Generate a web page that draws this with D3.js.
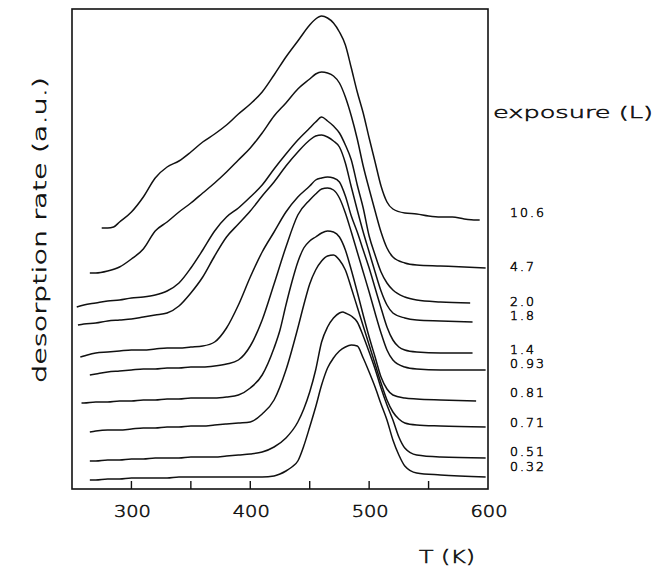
<!DOCTYPE html>
<html>
<head>
<meta charset="utf-8">
<script src="https://cdn.jsdelivr.net/npm/d3@7/dist/d3.min.js"></script>
<style>
  body { margin: 0; background: #fff; }
  text { font-family: "DejaVu Sans ExtraLight", "DejaVu Sans", sans-serif; font-weight: 200;
         fill: #111; stroke: #111; stroke-width: 0.55px; }
</style>
</head>
<body>
<div id="chart"></div>
<script>
// exposure labels (L), top curve first
var exposures = ["10.6", "4.7", "2.0", "1.8", "1.4", "0.93", "0.81", "0.71", "0.51", "0.32"];

// where each exposure label sits on the y axis (a.u.)
var labelLevels = [27.7, 22.3, 18.8, 17.4, 14.0, 12.6, 9.7, 6.7, 3.8, 2.3];

// spectra: [T (K), desorption rate (a.u., offset)]
var s10_6 = [[275,26.1],[280,26.1],[285,26.2],[290,26.7],[300,27.7],[310,29.2],[320,31.1],[330,32.2],[340,32.8],[350,33.7],[360,34.7],[370,35.5],[380,36.4],[390,37.5],[400,38.5],[410,39.7],[420,41.4],[430,43.2],[440,44.8],[450,46.4],[455,47.0],[460,47.3],[465,47.1],[470,46.6],[475,45.7],[480,44.4],[485,42.1],[490,39.7],[495,37.6],[500,35.1],[505,32.7],[510,30.3],[515,28.7],[520,28.0],[530,27.6],[540,27.5],[550,27.3],[560,27.2],[570,27.2],[580,27.0],[590,26.9],[593,26.9]];
var s4_7 = [[265,21.6],[270,21.6],[280,21.8],[290,22.2],[300,23.0],[310,24.0],[320,25.8],[330,26.7],[340,27.7],[350,28.6],[360,29.6],[370,30.6],[380,31.7],[390,32.9],[400,34.1],[410,35.6],[420,37.3],[430,38.6],[440,40.0],[450,41.0],[455,41.5],[460,41.7],[465,41.6],[470,41.3],[475,40.6],[480,39.2],[485,37.3],[490,35.0],[495,32.3],[500,30.0],[505,27.8],[510,25.7],[515,24.1],[520,23.2],[530,22.6],[540,22.4],[560,22.3],[580,22.2],[598,22.1]];
var s2_0 = [[254,18.2],[260,18.4],[270,18.6],[280,18.8],[290,18.9],[300,19.1],[310,19.2],[320,19.4],[330,19.8],[340,20.6],[350,22.1],[360,23.9],[370,25.8],[380,27.2],[390,28.1],[400,29.2],[410,30.4],[420,32.0],[430,33.5],[440,34.9],[450,36.1],[455,36.7],[460,37.2],[465,36.8],[470,36.3],[475,35.6],[480,34.4],[485,32.9],[490,30.4],[495,28.1],[500,25.3],[505,23.4],[510,21.7],[515,20.6],[520,19.9],[530,19.2],[540,18.9],[560,18.7],[585,18.6]];
var s1_8 = [[255,16.4],[260,16.5],[270,16.6],[280,16.8],[290,16.9],[300,17.0],[310,17.2],[320,17.4],[330,17.6],[340,18.3],[350,19.6],[360,21.2],[370,23.3],[380,25.2],[390,26.5],[400,27.8],[410,29.3],[420,30.7],[430,32.3],[440,33.7],[450,34.9],[455,35.3],[460,35.4],[465,35.2],[470,34.8],[475,34.2],[480,32.6],[485,30.2],[490,27.9],[495,25.7],[500,23.7],[505,21.7],[510,19.8],[515,18.4],[520,17.6],[530,17.1],[540,16.9],[560,16.8],[587,16.7]];
var s1_4 = [[257,13.2],[260,13.3],[270,13.6],[280,13.7],[290,13.8],[300,13.9],[310,13.9],[320,14.0],[330,14.1],[340,14.1],[350,14.2],[360,14.3],[370,14.7],[380,16.1],[390,18.4],[400,21.2],[410,23.7],[420,25.7],[430,27.7],[440,29.2],[450,30.3],[455,30.9],[460,31.1],[465,31.2],[470,31.1],[475,30.7],[480,29.3],[485,27.3],[490,25.7],[495,23.9],[500,22.1],[505,20.1],[510,18.1],[515,16.2],[520,14.9],[525,14.2],[530,13.9],[540,13.7],[560,13.6],[587,13.6]];
var s0_93 = [[265,11.4],[270,11.5],[280,11.7],[290,11.8],[300,11.9],[310,12.0],[320,12.0],[330,12.1],[340,12.1],[350,12.2],[360,12.2],[370,12.3],[380,12.5],[390,12.9],[400,14.3],[410,16.9],[420,20.5],[430,24.2],[440,27.4],[450,28.9],[455,29.5],[460,30.0],[465,30.1],[470,29.9],[475,29.1],[480,27.6],[485,25.7],[490,23.7],[495,21.7],[500,19.7],[505,17.6],[510,15.6],[515,13.9],[520,12.9],[530,12.2],[540,12.0],[560,11.9],[598,11.9]];
var s0_81 = [[258,8.6],[260,8.6],[270,8.7],[280,8.7],[290,8.8],[300,8.8],[310,8.9],[320,8.9],[330,9.0],[340,9.0],[350,9.1],[360,9.1],[370,9.1],[380,9.2],[390,9.4],[400,10.1],[410,11.4],[420,14.1],[425,15.9],[430,18.4],[435,20.7],[440,22.7],[445,24.1],[450,24.8],[455,25.2],[460,25.6],[465,25.8],[470,25.7],[475,25.2],[480,23.9],[485,21.9],[490,19.7],[495,17.4],[500,15.2],[505,13.2],[510,11.2],[515,10.0],[520,9.4],[530,9.1],[540,9.0],[560,8.9],[590,8.8]];
var s0_71 = [[265,5.7],[270,5.8],[280,5.9],[290,5.9],[300,6.0],[310,6.1],[320,6.1],[330,6.2],[340,6.2],[350,6.3],[360,6.3],[370,6.4],[380,6.5],[390,6.6],[400,6.7],[410,7.5],[420,8.9],[430,11.9],[440,16.1],[445,18.4],[450,20.5],[455,21.9],[460,22.8],[465,23.3],[470,23.4],[475,22.9],[480,21.9],[485,20.1],[490,18.2],[495,16.3],[500,14.4],[505,12.5],[510,10.6],[515,8.9],[520,7.7],[525,7.0],[530,6.6],[540,6.4],[560,6.3],[598,6.2]];
var s0_51 = [[265,2.8],[270,2.8],[280,2.9],[290,2.9],[300,3.0],[310,3.0],[320,3.1],[330,3.1],[340,3.1],[350,3.2],[360,3.2],[370,3.2],[380,3.3],[390,3.4],[400,3.5],[410,3.7],[420,4.2],[430,5.1],[440,6.7],[445,8.0],[450,9.7],[455,11.9],[460,14.7],[465,16.2],[470,17.1],[475,17.6],[478,17.7],[480,17.6],[485,17.3],[490,16.7],[495,15.3],[500,13.7],[505,12.0],[510,10.1],[515,8.4],[520,6.9],[525,5.2],[530,4.1],[540,3.4],[560,3.2],[598,3.1]];
var s0_32 = [[265,0.9],[270,0.9],[280,1.0],[290,1.0],[300,1.1],[310,1.1],[320,1.1],[330,1.1],[340,1.2],[350,1.2],[360,1.2],[370,1.2],[380,1.2],[390,1.2],[400,1.2],[410,1.2],[420,1.3],[425,1.5],[430,1.8],[435,2.2],[440,2.8],[445,4.3],[450,6.2],[455,8.2],[460,10.4],[465,12.1],[470,13.1],[475,13.8],[480,14.2],[485,14.4],[490,14.3],[495,13.1],[500,11.7],[505,10.2],[510,8.5],[515,6.9],[520,4.9],[525,3.4],[530,2.3],[540,1.6],[560,1.4],[598,1.2]];

var spectra = [s10_6, s4_7, s2_0, s1_8, s1_4, s0_93, s0_81, s0_71, s0_51, s0_32];

var xTicks = [300, 350, 400, 450, 500, 550];
var xLabels = [300, 400, 500, 600];

// set the dimensions and margins of the graph
var W = 656, H = 574;
var margin = { top: 9, right: 168, bottom: 85, left: 72 },
    width = W - margin.left - margin.right,
    height = H - margin.top - margin.bottom;

var svg = d3.select("#chart").append("svg")
    .attr("width", W)
    .attr("height", H);

var g = svg.append("g")
    .attr("transform", "translate(" + margin.left + "," + margin.top + ")");

var x = d3.scaleLinear().domain([250, 600]).range([0, width]);
var y = d3.scaleLinear().domain([0, 48]).range([height, 0]);

// curves
var line = d3.line()
    .x(function (d) { return x(d[0]); })
    .y(function (d) { return y(d[1]); })
    .curve(d3.curveMonotoneX);

g.selectAll("path.spec")
    .data(spectra)
    .enter()
    .append("path")
    .attr("class", "spec")
    .attr("d", line)
    .attr("fill", "none")
    .attr("stroke", "#111")
    .attr("stroke-width", 1.5)
    .attr("stroke-linejoin", "round");

// frame
g.append("rect")
    .attr("x", 0).attr("y", 0)
    .attr("width", width).attr("height", height)
    .attr("fill", "none")
    .attr("stroke", "#111")
    .attr("stroke-width", 1.6);

// inward ticks on the T axis
g.selectAll("line.tick")
    .data(xTicks)
    .enter()
    .append("line")
    .attr("x1", function (d) { return x(d); })
    .attr("x2", function (d) { return x(d); })
    .attr("y1", height)
    .attr("y2", height - 8)
    .attr("stroke", "#111")
    .attr("stroke-width", 1.4);

g.selectAll("text.xl")
    .data(xLabels)
    .enter()
    .append("text")
    .attr("class", "xl")
    .attr("x", function (d) { return x(d) + 1; })
    .attr("y", height + 28)
    .attr("text-anchor", "middle")
    .attr("textLength", 37)
    .attr("lengthAdjust", "spacingAndGlyphs")
    .style("font-size", "15.5px")
    .text(function (d) { return d; });

// exposure labels
g.selectAll("text.exp")
    .data(exposures)
    .enter()
    .append("text")
    .attr("class", "exp")
    .attr("x", width + 22)
    .attr("y", function (d, i) { return y(labelLevels[i]) + 5; })
    .style("font-size", "12.5px")
    .style("letter-spacing", "2px")
    .text(function (d) { return d; });

svg.append("text")
    .attr("x", 493)
    .attr("y", 118)
    .attr("textLength", 160)
    .attr("lengthAdjust", "spacingAndGlyphs")
    .style("font-size", "16px")
    .text("exposure (L)");

svg.append("text")
    .attr("transform", "translate(46,230) rotate(-90)")
    .attr("text-anchor", "middle")
    .attr("textLength", 306)
    .attr("lengthAdjust", "spacingAndGlyphs")
    .style("font-size", "17px")
    .text("desorption rate (a.u.)");

svg.append("text")
    .attr("x", 419)
    .attr("y", 563)
    .attr("textLength", 56)
    .attr("lengthAdjust", "spacingAndGlyphs")
    .style("font-size", "17px")
    .text("T (K)");
</script>
</body>
</html>
